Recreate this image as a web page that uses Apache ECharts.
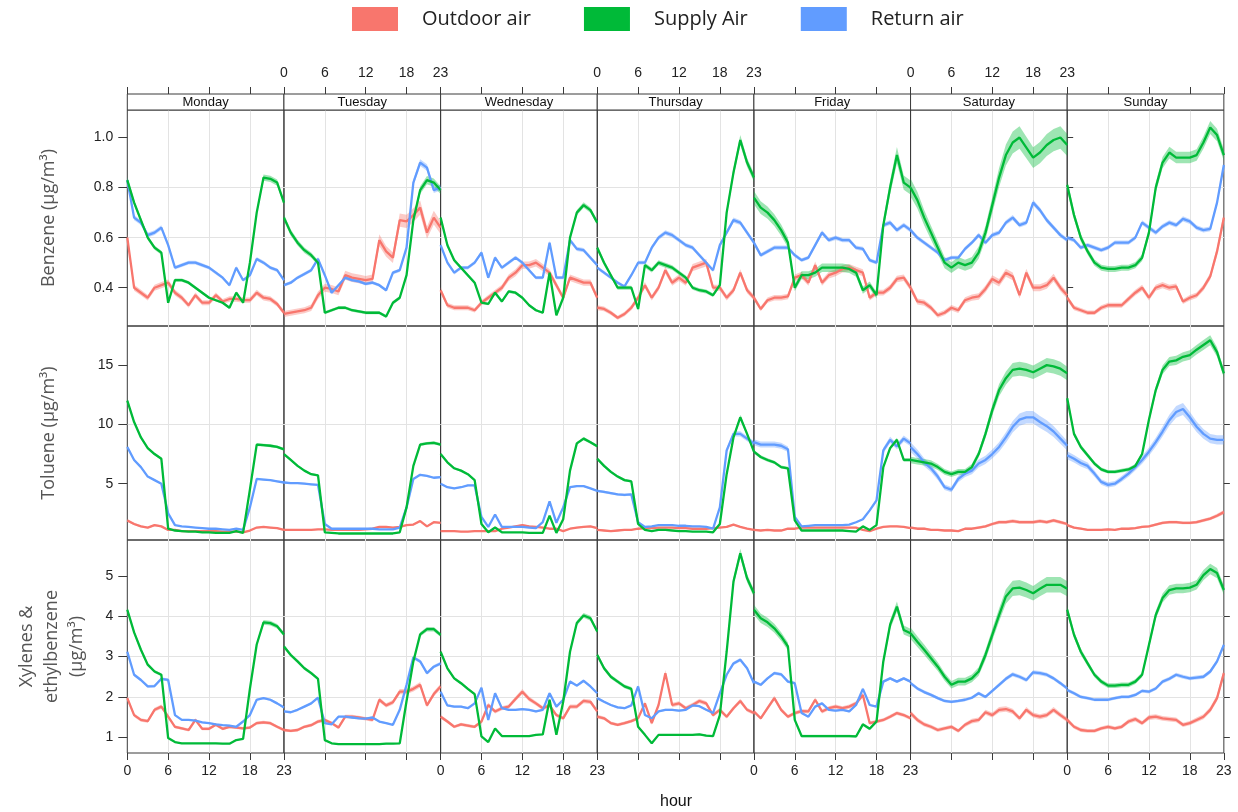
<!DOCTYPE html>
<html>
<head>
<meta charset="utf-8">
<title>Hourly VOC concentrations by weekday</title>
<script src="https://cdn.jsdelivr.net/npm/echarts@6/dist/echarts.min.js"></script>
<style>
  html, body { margin: 0; padding: 0; background: #ffffff; }
  #chart { width: 1238px; height: 812px; }
</style>
</head>
<body>
<div id="chart"></div>
<script>
// ---------------- data ----------------
const days = ['Monday', 'Tuesday', 'Wednesday', 'Thursday', 'Friday', 'Saturday', 'Sunday'];
const hours = [0, 1, 2, 3, 4, 5, 6, 7, 8, 9, 10, 11, 12, 13, 14, 15, 16, 17, 18, 19, 20, 21, 22, 23];
const groups = ['Outdoor air', 'Supply Air', 'Return air'];
const pollutantTitles = ['Benzene (µg/m³)', 'Toluene (µg/m³)', 'Xylenes &\nethylbenzene\n(µg/m³)'];
const benzeneTicks = [0.4, 0.6, 0.8, 1.0];
const tolueneTicks = [5, 10, 15];
const xylenesTicks = [1, 2, 3, 4, 5];

// Hourly means, one row of 24 values per weekday (Monday..Sunday)
const benzeneOutdoor = [
  [0.60,0.40,0.38,0.36,0.40,0.41,0.42,0.38,0.36,0.33,0.37,0.34,0.34,0.37,0.345,0.355,0.355,0.35,0.35,0.38,0.36,0.355,0.335,0.30],
  [0.295,0.30,0.305,0.31,0.32,0.37,0.40,0.395,0.385,0.45,0.44,0.435,0.43,0.435,0.59,0.545,0.52,0.67,0.665,0.69,0.72,0.62,0.68,0.64],
  [0.39,0.33,0.32,0.32,0.32,0.31,0.34,0.36,0.38,0.40,0.44,0.46,0.49,0.49,0.50,0.48,0.46,0.41,0.36,0.44,0.43,0.42,0.42,0.36],
  [0.32,0.315,0.30,0.28,0.295,0.32,0.36,0.41,0.36,0.40,0.47,0.42,0.44,0.42,0.48,0.49,0.50,0.40,0.40,0.36,0.39,0.46,0.39,0.36],
  [0.36,0.315,0.35,0.36,0.36,0.365,0.44,0.45,0.42,0.49,0.42,0.45,0.46,0.475,0.48,0.47,0.46,0.36,0.38,0.38,0.40,0.435,0.44,0.40],
  [0.40,0.345,0.34,0.32,0.29,0.30,0.32,0.31,0.35,0.36,0.365,0.395,0.435,0.42,0.46,0.445,0.37,0.46,0.40,0.40,0.41,0.44,0.40,0.37],
  [0.36,0.32,0.31,0.30,0.30,0.32,0.33,0.33,0.33,0.355,0.38,0.40,0.36,0.40,0.41,0.40,0.405,0.345,0.36,0.37,0.40,0.445,0.545,0.68]
];
const benzeneSupply = [
  [0.83,0.74,0.67,0.60,0.56,0.54,0.34,0.43,0.43,0.42,0.40,0.38,0.36,0.35,0.34,0.32,0.38,0.34,0.50,0.70,0.84,0.835,0.82,0.74],
  [0.68,0.62,0.58,0.55,0.53,0.50,0.30,0.31,0.32,0.32,0.31,0.305,0.30,0.30,0.30,0.285,0.34,0.36,0.45,0.67,0.79,0.83,0.82,0.79],
  [0.68,0.57,0.51,0.48,0.45,0.42,0.34,0.335,0.38,0.345,0.385,0.38,0.36,0.33,0.31,0.30,0.46,0.29,0.36,0.60,0.70,0.73,0.71,0.66],
  [0.56,0.50,0.45,0.40,0.40,0.40,0.315,0.49,0.47,0.50,0.49,0.48,0.46,0.44,0.40,0.39,0.385,0.37,0.41,0.70,0.86,0.99,0.90,0.84],
  [0.76,0.72,0.70,0.67,0.63,0.58,0.40,0.45,0.45,0.46,0.48,0.48,0.48,0.48,0.475,0.46,0.39,0.41,0.37,0.65,0.80,0.93,0.82,0.80],
  [0.80,0.75,0.68,0.62,0.56,0.50,0.48,0.50,0.49,0.50,0.54,0.62,0.73,0.84,0.93,0.98,1.00,0.96,0.92,0.94,0.97,0.99,1.00,0.97],
  [0.81,0.69,0.60,0.545,0.50,0.48,0.475,0.475,0.48,0.48,0.49,0.52,0.62,0.80,0.90,0.94,0.92,0.92,0.92,0.93,0.98,1.04,1.01,0.93]
];
const benzeneReturn = [
  [0.83,0.68,0.66,0.61,0.62,0.64,0.57,0.48,0.49,0.50,0.50,0.49,0.48,0.46,0.44,0.41,0.48,0.43,0.45,0.515,0.50,0.48,0.47,0.43],
  [0.41,0.42,0.44,0.455,0.47,0.515,0.45,0.38,0.41,0.44,0.43,0.425,0.415,0.42,0.41,0.39,0.46,0.47,0.56,0.82,0.90,0.88,0.79,0.80],
  [0.57,0.50,0.46,0.48,0.48,0.50,0.54,0.44,0.52,0.48,0.50,0.52,0.50,0.47,0.44,0.44,0.58,0.44,0.44,0.59,0.555,0.55,0.52,0.49],
  [0.48,0.46,0.44,0.42,0.405,0.45,0.50,0.50,0.56,0.60,0.62,0.61,0.59,0.57,0.56,0.53,0.50,0.47,0.57,0.62,0.67,0.66,0.62,0.58],
  [0.58,0.53,0.545,0.56,0.56,0.56,0.53,0.51,0.52,0.57,0.62,0.59,0.60,0.59,0.59,0.56,0.555,0.51,0.50,0.65,0.66,0.63,0.65,0.63],
  [0.63,0.60,0.58,0.56,0.54,0.51,0.52,0.52,0.555,0.58,0.61,0.58,0.61,0.62,0.66,0.68,0.65,0.66,0.74,0.71,0.67,0.64,0.61,0.59],
  [0.60,0.59,0.56,0.57,0.56,0.55,0.56,0.58,0.58,0.58,0.60,0.66,0.64,0.62,0.645,0.66,0.65,0.675,0.665,0.64,0.63,0.635,0.74,0.89]
];

const tolueneOutdoor = [
  [1.9,1.6,1.4,1.3,1.5,1.4,1.1,1.1,1.0,1.0,1.0,1.0,1.0,1.0,0.95,0.95,0.95,0.9,1.05,1.3,1.35,1.3,1.25,1.1],
  [1.1,1.1,1.1,1.1,1.1,1.15,1.15,1.1,1.1,1.1,1.1,1.1,1.15,1.2,1.35,1.35,1.3,1.35,1.5,1.55,1.85,1.4,1.75,1.7],
  [1.0,1.0,1.0,0.95,0.95,1.0,1.0,1.0,1.0,1.2,1.3,1.4,1.5,1.4,1.35,1.3,1.2,1.2,1.0,1.2,1.3,1.35,1.4,1.25],
  [1.1,1.05,1.0,1.05,1.1,1.1,1.2,1.25,1.25,1.3,1.3,1.3,1.25,1.25,1.2,1.2,1.2,1.25,1.3,1.35,1.55,1.35,1.2,1.1],
  [1.1,1.05,1.1,1.05,1.05,1.2,1.2,1.3,1.3,1.3,1.3,1.3,1.3,1.3,1.3,1.3,1.1,1.0,1.2,1.35,1.4,1.4,1.35,1.25],
  [1.3,1.2,1.2,1.1,1.1,1.05,1.05,1.0,1.2,1.2,1.3,1.4,1.6,1.75,1.75,1.85,1.75,1.75,1.75,1.85,1.75,1.9,1.75,1.6],
  [1.5,1.3,1.2,1.1,1.1,1.1,1.15,1.1,1.2,1.2,1.25,1.35,1.4,1.55,1.7,1.75,1.75,1.7,1.7,1.75,1.9,2.05,2.3,2.6]
];
const tolueneSupply = [
  [12.0,10.2,8.9,8.0,7.5,7.1,1.2,1.05,1.0,0.95,0.95,0.9,0.9,0.85,0.85,0.85,1.0,0.85,4.5,8.3,8.25,8.2,8.1,7.9],
  [7.5,7.0,6.5,6.1,5.8,5.7,0.9,0.85,0.8,0.8,0.8,0.8,0.8,0.8,0.8,0.8,0.8,0.9,3.0,6.5,8.3,8.4,8.45,8.3],
  [7.5,6.8,6.3,6.1,5.8,5.3,1.6,0.9,1.3,0.9,0.9,0.9,0.9,0.85,0.85,0.85,2.3,0.85,2.0,6.1,8.4,8.8,8.5,8.15],
  [7.1,6.5,6.0,5.6,5.3,5.2,1.6,1.1,1.0,1.1,1.1,1.05,1.0,1.0,0.95,0.95,0.95,0.9,1.6,5.8,8.9,10.6,9.2,7.7],
  [7.7,7.25,7.0,6.8,6.4,6.3,1.9,1.05,1.05,1.05,1.05,1.05,1.05,1.05,1.0,0.95,1.4,1.1,1.5,6.4,8.0,8.7,7.0,7.0],
  [7.0,6.9,6.8,6.7,6.4,6.0,5.8,6.0,6.0,6.4,7.5,9.2,11.2,12.9,13.9,14.6,14.7,14.6,14.4,14.7,15.0,14.9,14.7,14.3],
  [12.2,9.2,8.1,7.4,6.7,6.2,6.0,6.0,6.1,6.2,6.5,7.5,10.4,12.9,14.6,15.3,15.4,15.7,15.85,16.3,16.7,17.1,16.1,14.3]
];
const tolueneReturn = [
  [8.1,7.0,6.4,5.6,5.3,5.0,2.5,1.5,1.4,1.35,1.3,1.25,1.2,1.2,1.15,1.1,1.2,1.1,3.0,5.4,5.35,5.3,5.2,5.1],
  [5.1,5.05,5.05,5.0,4.95,4.9,1.6,1.2,1.2,1.2,1.2,1.2,1.2,1.2,1.15,1.15,1.15,1.3,3.0,5.4,5.75,5.65,5.5,5.55],
  [5.0,4.7,4.6,4.7,4.85,4.85,2.2,1.35,2.4,1.35,1.35,1.35,1.35,1.3,1.25,1.75,3.5,1.7,3.0,4.7,4.8,4.8,4.6,4.4],
  [4.4,4.3,4.2,4.1,4.05,4.1,1.75,1.35,1.4,1.5,1.5,1.5,1.45,1.45,1.4,1.4,1.35,1.2,3.0,7.8,9.2,9.2,8.8,8.4],
  [8.5,8.3,8.3,8.3,8.2,7.9,2.2,1.4,1.45,1.5,1.5,1.5,1.5,1.5,1.55,1.75,2.0,2.75,3.6,7.8,8.7,8.15,8.8,8.4],
  [8.1,7.5,6.8,6.3,5.6,4.7,4.5,5.4,5.85,6.1,6.7,7.0,7.5,8.1,8.9,9.8,10.4,10.6,10.6,10.2,9.85,9.4,8.8,8.2],
  [7.4,7.1,6.75,6.5,5.85,5.15,4.9,5.0,5.4,5.85,6.4,7.0,7.7,8.5,9.4,10.35,11.05,11.3,10.6,9.8,9.2,8.8,8.7,8.7]
];

const xylenesOutdoor = [
  [1.97,1.55,1.43,1.40,1.68,1.76,1.51,1.26,1.22,1.18,1.43,1.21,1.21,1.31,1.21,1.26,1.24,1.22,1.24,1.35,1.37,1.35,1.26,1.18],
  [1.18,1.16,1.18,1.26,1.30,1.39,1.43,1.35,1.24,1.51,1.51,1.49,1.46,1.43,1.93,1.79,1.87,2.13,2.13,2.20,2.30,1.79,2.07,2.26],
  [1.51,1.39,1.26,1.32,1.29,1.26,1.39,1.80,1.64,1.72,1.76,1.95,2.13,1.95,1.84,1.72,1.79,1.55,1.47,1.76,1.76,1.90,1.88,1.64],
  [1.51,1.47,1.35,1.31,1.35,1.40,1.47,1.84,1.35,1.80,2.59,1.80,1.84,1.72,1.80,1.90,1.84,1.55,1.68,1.51,1.72,1.90,1.68,1.60],
  [1.64,1.47,1.72,1.97,1.68,1.51,1.60,1.65,1.64,1.93,1.64,1.72,1.76,1.72,1.76,1.84,2.05,1.35,1.39,1.43,1.51,1.60,1.55,1.47],
  [1.60,1.43,1.32,1.26,1.18,1.22,1.26,1.16,1.31,1.40,1.43,1.62,1.55,1.68,1.70,1.64,1.47,1.68,1.55,1.51,1.55,1.68,1.55,1.43],
  [1.43,1.26,1.18,1.16,1.16,1.22,1.26,1.22,1.26,1.39,1.45,1.35,1.49,1.51,1.47,1.45,1.43,1.31,1.35,1.43,1.51,1.68,1.97,2.59]
];
const xylenesSupply = [
  [4.16,3.60,3.17,2.80,2.63,2.55,0.98,0.88,0.85,0.85,0.85,0.85,0.85,0.85,0.84,0.84,0.93,0.96,2.20,3.30,3.85,3.83,3.75,3.55],
  [3.25,3.04,2.88,2.71,2.59,2.45,0.93,0.85,0.83,0.83,0.83,0.83,0.83,0.83,0.83,0.84,0.84,0.85,1.90,2.88,3.55,3.68,3.68,3.54],
  [3.12,2.71,2.46,2.34,2.20,2.07,1.02,0.88,1.22,1.03,1.03,1.03,1.03,1.03,1.06,1.07,1.93,1.06,1.88,3.12,3.83,4.02,3.95,3.62],
  [3.04,2.71,2.50,2.38,2.26,2.20,1.26,1.06,0.85,1.06,1.06,1.06,1.06,1.06,1.06,1.07,1.04,1.03,1.55,3.12,4.86,5.56,4.94,4.57],
  [4.16,3.95,3.85,3.70,3.50,3.25,1.43,1.03,1.03,1.03,1.03,1.03,1.03,1.03,1.03,1.02,1.32,1.21,1.39,2.88,3.79,4.24,3.66,3.58],
  [3.58,3.37,3.17,2.96,2.75,2.50,2.30,2.38,2.38,2.46,2.63,3.04,3.54,4.03,4.49,4.69,4.71,4.65,4.57,4.68,4.78,4.78,4.78,4.68],
  [4.16,3.54,3.12,2.83,2.55,2.38,2.28,2.28,2.30,2.30,2.38,2.55,3.29,4.03,4.45,4.65,4.69,4.69,4.71,4.78,5.02,5.17,5.07,4.65]
];
const xylenesReturn = [
  [3.12,2.55,2.42,2.26,2.27,2.45,2.42,1.55,1.43,1.43,1.41,1.37,1.35,1.32,1.30,1.29,1.26,1.39,1.55,1.93,1.97,1.93,1.84,1.74],
  [1.64,1.62,1.68,1.76,1.84,1.98,1.35,1.32,1.51,1.51,1.49,1.47,1.46,1.49,1.39,1.35,1.31,1.68,2.30,2.98,2.88,2.59,2.75,2.83],
  [2.13,1.79,1.76,1.76,1.72,1.84,2.23,1.43,2.09,1.72,1.68,1.68,1.70,1.68,1.64,1.68,2.09,1.76,1.93,2.38,2.28,2.40,2.26,2.09],
  [1.97,1.88,1.80,1.74,1.72,1.79,2.26,1.55,1.47,1.64,1.68,1.68,1.66,1.68,1.79,1.77,1.68,1.60,2.09,2.55,2.83,2.92,2.71,2.34],
  [2.38,2.30,2.46,2.59,2.56,2.38,2.34,1.60,1.51,1.76,1.84,1.68,1.66,1.68,1.64,1.80,2.20,1.80,1.76,2.38,2.46,2.38,2.46,2.38],
  [2.34,2.21,2.12,2.05,1.97,1.90,1.88,1.90,1.93,1.98,2.09,2.00,2.15,2.30,2.45,2.56,2.50,2.42,2.61,2.59,2.55,2.46,2.34,2.21],
  [2.17,2.09,2.00,1.97,1.93,1.93,1.93,1.97,2.00,2.00,2.05,2.15,2.13,2.21,2.38,2.45,2.55,2.50,2.46,2.48,2.50,2.63,2.88,3.29]
];

// Relative half-width of the confidence band, per weekday (outdoor, supply, return)
const benzeneCI = [
  [0.03, 0.04, 0.03, 0.03, 0.03, 0.035, 0.03],
  [0.015, 0.02, 0.015, 0.02, 0.035, 0.045, 0.025],
  [0.015, 0.015, 0.015, 0.015, 0.015, 0.015, 0.015]
];
const tolueneCI = [
  [0.06, 0.05, 0.05, 0.05, 0.05, 0.08, 0.07],
  [0.015, 0.015, 0.015, 0.02, 0.02, 0.04, 0.025],
  [0.015, 0.015, 0.015, 0.025, 0.03, 0.05, 0.045]
];
const xylenesCI = [
  [0.03, 0.03, 0.03, 0.03, 0.03, 0.04, 0.04],
  [0.015, 0.015, 0.015, 0.02, 0.03, 0.04, 0.025],
  [0.015, 0.015, 0.015, 0.015, 0.015, 0.02, 0.02]
];

// ---------------- layout & style ----------------
const PLOT_LEFT = 127.3;
const PANEL_W = 156.65;
const ROW_TOP = [110, 326, 540];
const ROW_H = [216, 214, 213];
const Y_RANGE = [[0.247, 1.11], [0.25, 18.3], [0.61, 5.89]];
const STRIP_H = 16;
const LINE_COLORS = ['#F8766D', '#00BA38', '#619CFF'];
const BAND_COLORS = ['rgba(248,118,109,0.38)', 'rgba(0,186,56,0.38)', 'rgba(97,156,255,0.38)'];
const DRAW_ORDER = [0, 2, 1];
const BORDER = '#3a3a3a';
const GRID_LINE = '#e3e3e3';
const NARROW = '"Liberation Sans Narrow", "Liberation Sans", Arial, sans-serif';
const SANS = '"Liberation Sans", Arial, sans-serif';

const rowsData = [
  { values: [benzeneOutdoor, benzeneSupply, benzeneReturn], ci: benzeneCI, ticks: benzeneTicks, fmt: v => v.toFixed(1) },
  { values: [tolueneOutdoor, tolueneSupply, tolueneReturn], ci: tolueneCI, ticks: tolueneTicks, fmt: v => String(v) },
  { values: [xylenesOutdoor, xylenesSupply, xylenesReturn], ci: xylenesCI, ticks: xylenesTicks, fmt: v => String(v) }
];
const NAME_GAP = [66, 66, 38];

// Confidence band: one polygon through the upper values and back along the lower ones
function bandRenderer(fill) {
  return function (params, api) {
    if (params.dataIndexInside !== 0) return null;
    const n = params.dataInsideLength;
    const upper = [], lower = [];
    for (let i = 0; i < n; i++) {
      const x = api.value(0, i);
      upper.push(api.coord([x, api.value(2, i)]));
      lower.push(api.coord([x, api.value(1, i)]));
    }
    return {
      type: 'polygon',
      shape: { points: upper.concat(lower.reverse()) },
      style: { fill: fill, stroke: null }
    };
  };
}

const grid = [], xAxis = [], yAxis = [], series = [], graphic = [];

rowsData.forEach((row, r) => {
  days.forEach((day, c) => {
    const g = r * 7 + c;
    grid.push({
      left: PLOT_LEFT + c * PANEL_W, top: ROW_TOP[r], width: PANEL_W, height: ROW_H[r],
      show: true, borderColor: BORDER, borderWidth: 1, backgroundColor: 'transparent'
    });
    xAxis.push({
      type: 'value', gridIndex: g, min: 0, max: 23, interval: 6,
      axisLine: { show: false },
      axisTick: { show: r === 2, length: 7, lineStyle: { color: BORDER } },
      axisLabel: { show: r === 2 && c % 2 === 0, margin: 11, fontSize: 14, color: '#222', fontFamily: NARROW },
      splitLine: { show: true, showMinLine: false, showMaxLine: false, lineStyle: { color: GRID_LINE, width: 1 } }
    });
    yAxis.push({
      type: 'value', gridIndex: g, min: Y_RANGE[r][0], max: Y_RANGE[r][1],
      axisLine: { show: false },
      axisTick: { show: c === 0, length: 9, customValues: row.ticks, lineStyle: { color: BORDER } },
      axisLabel: { show: c === 0, customValues: row.ticks, formatter: row.fmt, margin: 14, fontSize: 14, color: '#222', fontFamily: SANS },
      splitLine: { show: true, showMinLine: false, showMaxLine: false, lineStyle: { color: GRID_LINE, width: 1 } },
      name: c === 0 ? pollutantTitles[r] : '',
      nameLocation: 'middle', nameRotate: 90, nameGap: NAME_GAP[r],
      nameTextStyle: { fontSize: 18, color: '#555', fontFamily: '"Open Sans", sans-serif', lineHeight: 25 }
    });

    DRAW_ORDER.forEach(k => {
      const vals = row.values[k][c];
      const rel = row.ci[k][c];
      series.push({
        type: 'custom', name: groups[k] + ' band', xAxisIndex: g, yAxisIndex: g,
        silent: true, z: 2, clip: true,
        encode: { x: 0, y: [1, 2] },
        renderItem: bandRenderer(BAND_COLORS[k]),
        data: hours.map((h, i) => [h, vals[i] * (1 - rel), vals[i] * (1 + rel)])
      });
    });
    DRAW_ORDER.forEach((k, j) => {
      const vals = row.values[k][c];
      series.push({
        type: 'line', name: groups[k], xAxisIndex: g, yAxisIndex: g,
        symbol: 'none', silent: true, z: 4 + j, color: LINE_COLORS[k],
        lineStyle: { width: 2.3, color: LINE_COLORS[k] },
        data: hours.map((h, i) => [h, vals[i]])
      });
    });
  });
});

// hour ticks above the day strips of the first row
days.forEach((day, c) => {
  xAxis.push({
    type: 'value', gridIndex: c, position: 'top', offset: STRIP_H, min: 0, max: 23, interval: 6,
    axisLine: { show: false },
    axisTick: { show: true, length: 7, lineStyle: { color: BORDER } },
    axisLabel: { show: c % 2 === 1, margin: 14, fontSize: 14, color: '#222', fontFamily: NARROW },
    splitLine: { show: false }
  });
  const x0 = PLOT_LEFT + c * PANEL_W;
  graphic.push({
    type: 'rect', shape: { x: x0, y: ROW_TOP[0] - STRIP_H, width: PANEL_W, height: STRIP_H },
    style: { fill: '#ffffff', stroke: BORDER, lineWidth: 1 }, z: 10
  });
  graphic.push({
    type: 'text', x: x0 + PANEL_W / 2, y: ROW_TOP[0] - STRIP_H / 2, z: 11,
    style: { text: day, fill: '#111', font: '13px ' + SANS, align: 'center', verticalAlign: 'middle' }
  });
});

// tick marks on the right edge of the Sunday panels
rowsData.forEach((row, r) => {
  yAxis.push({
    type: 'value', gridIndex: r * 7 + 6, position: 'right', min: Y_RANGE[r][0], max: Y_RANGE[r][1],
    axisLine: { show: false },
    axisTick: { show: true, length: 6, customValues: row.ticks, lineStyle: { color: BORDER } },
    axisLabel: { show: false, customValues: row.ticks },
    splitLine: { show: false }
  });
});

const chart = echarts.init(document.getElementById('chart'), null, { renderer: 'canvas' });
chart.setOption({
  animation: false,
  backgroundColor: '#ffffff',
  title: {
    text: 'hour', left: 671, top: 789, textAlign: 'center',
    textStyle: { fontSize: 16, fontWeight: 'normal', color: '#111', fontFamily: NARROW }
  },
  legend: {
    data: groups, left: 352, top: 7, padding: 0, icon: 'rect', itemWidth: 46, itemHeight: 24, itemGap: 53,
    selectedMode: false,
    textStyle: { fontSize: 20, color: '#222', fontFamily: '"Open Sans", sans-serif', padding: [0, 0, 0, 19] }
  },
  grid, xAxis, yAxis, series, graphic
});
</script>
</body>
</html>
